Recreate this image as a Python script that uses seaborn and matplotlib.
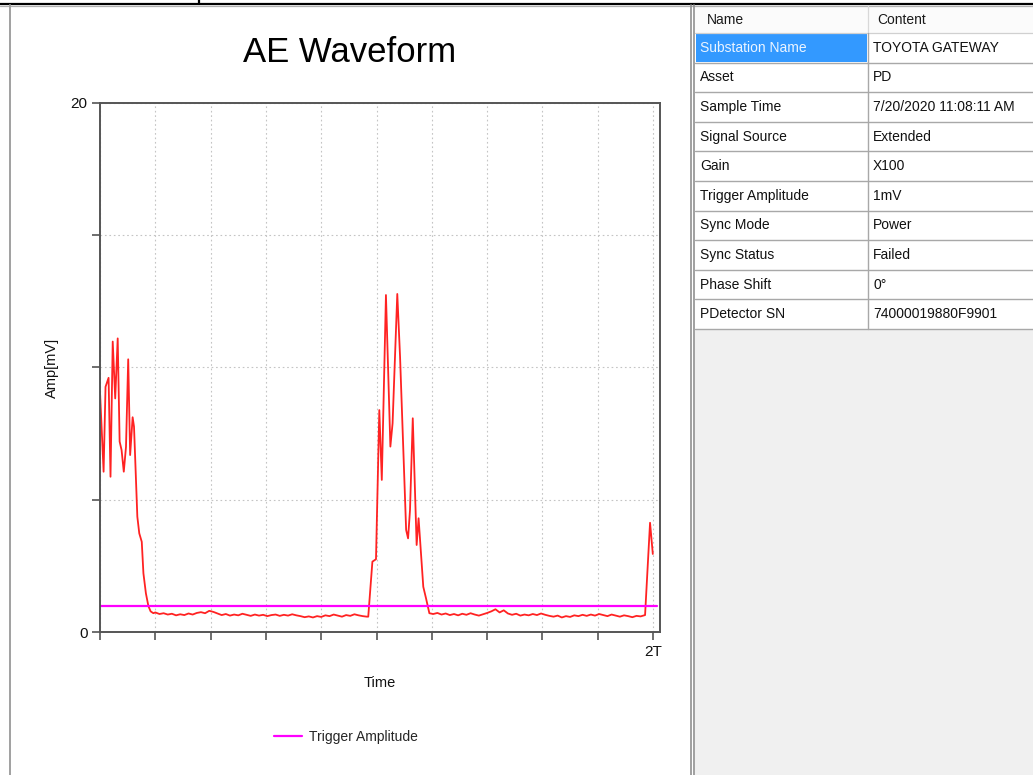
import numpy as np
import pandas as pd
import matplotlib
matplotlib.use("Agg")
import matplotlib.pyplot as plt
import seaborn as sns
from matplotlib.patches import Rectangle

# ---------------- data ----------------
burst1_t = [0.000, 0.013, 0.020, 0.031, 0.038, 0.046, 0.055, 0.064, 0.071, 0.078,
            0.086, 0.094, 0.102, 0.109, 0.118, 0.123, 0.135, 0.142, 0.151, 0.157,
            0.166, 0.175, 0.183, 0.193]
burst1_a = [9.08, 6.06, 9.27, 9.61, 5.87, 10.98, 8.83, 11.10, 7.20, 6.88,
            6.06, 7.00, 10.31, 6.69, 8.12, 7.76, 4.36, 3.73, 3.41, 2.22,
            1.46, 0.98, 0.78, 0.71]

noise1_t = [0.200, 0.215, 0.230, 0.245, 0.260, 0.275, 0.290, 0.305, 0.320, 0.335,
            0.350, 0.365, 0.380, 0.395, 0.410, 0.425, 0.440, 0.455, 0.470, 0.485,
            0.500, 0.515, 0.530, 0.545, 0.560, 0.575, 0.590, 0.605, 0.620, 0.635,
            0.650, 0.665, 0.680, 0.695, 0.710, 0.725, 0.740, 0.755, 0.770, 0.785,
            0.800, 0.815, 0.830, 0.845, 0.860, 0.875, 0.890, 0.905, 0.920, 0.935,
            0.950, 0.965]
noise1_a = [0.74, 0.68, 0.71, 0.66, 0.69, 0.63, 0.67, 0.64, 0.70, 0.66,
            0.72, 0.75, 0.71, 0.80, 0.76, 0.70, 0.64, 0.68, 0.62, 0.66,
            0.63, 0.69, 0.65, 0.61, 0.66, 0.62, 0.65, 0.60, 0.64, 0.66,
            0.61, 0.65, 0.62, 0.67, 0.63, 0.60, 0.56, 0.59, 0.55, 0.60,
            0.57, 0.63, 0.60, 0.66, 0.62, 0.58, 0.64, 0.61, 0.67, 0.63,
            0.60, 0.58]

burst2_t = [0.970, 0.985, 0.998, 1.010, 1.019, 1.034, 1.050, 1.058, 1.075, 1.085,
            1.107, 1.114, 1.121, 1.131, 1.145, 1.152, 1.169, 1.179, 1.191]
burst2_a = [0.58, 2.66, 2.75, 8.39, 5.75, 12.74, 7.01, 7.89, 12.78, 10.41,
            3.86, 3.54, 4.61, 8.08, 3.29, 4.30, 1.71, 1.27, 0.71]

noise2_t = [1.205, 1.220, 1.235, 1.250, 1.265, 1.280, 1.295, 1.310, 1.325, 1.340,
            1.355, 1.370, 1.385, 1.400, 1.415, 1.430, 1.445, 1.460, 1.475, 1.490,
            1.505, 1.520, 1.535, 1.550, 1.565, 1.580, 1.595, 1.610, 1.625, 1.640,
            1.655, 1.670, 1.685, 1.700, 1.715, 1.730, 1.745, 1.760, 1.775, 1.790,
            1.805, 1.820, 1.835, 1.850, 1.865, 1.880, 1.895, 1.910, 1.925, 1.940,
            1.955]
noise2_a = [0.68, 0.72, 0.66, 0.70, 0.64, 0.68, 0.63, 0.69, 0.65, 0.71,
            0.66, 0.62, 0.67, 0.72, 0.78, 0.86, 0.74, 0.82, 0.70, 0.65,
            0.69, 0.62, 0.66, 0.63, 0.68, 0.64, 0.70, 0.65, 0.61, 0.58,
            0.62, 0.55, 0.60, 0.57, 0.63, 0.60, 0.65, 0.61, 0.66, 0.62,
            0.68, 0.64, 0.60, 0.66, 0.62, 0.58, 0.63, 0.60, 0.56, 0.61,
            0.59]

burst3_t = [1.971, 1.989, 1.999]
burst3_a = [0.64, 4.13, 2.95]

trigger_t = [0.0, 2.013]
trigger_a = [1.0, 1.0]

x_ticks = [0.0, 0.2, 0.4, 0.6, 0.8, 1.0, 1.2, 1.4, 1.6, 1.8, 2.0]
x_tick_labels = ["", "", "", "", "", "", "", "", "", "", "2T"]
y_ticks = [0, 5, 10, 15, 20]
y_tick_labels = ["0", "", "", "", "20"]

table_header = ["Name", "Content"]
table_names = ["Substation Name", "Asset", "Sample Time", "Signal Source", "Gain",
               "Trigger Amplitude", "Sync Mode", "Sync Status", "Phase Shift",
               "PDetector SN"]
table_values = ["TOYOTA GATEWAY", "PD", "7/20/2020 11:08:11 AM", "Extended", "X100",
                "1mV", "Power", "Failed", "0°", "74000019880F9901"]

wave_df = pd.DataFrame({
    "time": burst1_t + noise1_t + burst2_t + noise2_t + burst3_t,
    "amp": burst1_a + noise1_a + burst2_a + noise2_a + burst3_a,
})
trig_df = pd.DataFrame({"time": trigger_t, "amp": trigger_a})

# ---------------- style ----------------
sns.set_theme(style="white")
plt.rcParams["font.family"] = ["Liberation Sans", "DejaVu Sans"]

W, H = 1033, 775
fig = plt.figure(figsize=(W / 100, H / 100), dpi=100)
fig.patch.set_facecolor("white")

# background / decoration layer in pixel coordinates
bg = fig.add_axes([0, 0, 1, 1], zorder=0)
bg.set_xlim(0, W)
bg.set_ylim(H, 0)
bg.axis("off")

# window frame lines
bg.plot([0, W], [3.5, 3.5], color="black", lw=1.6, solid_capstyle="butt")
bg.plot([0, W], [5.6, 5.6], color="#b0b0b0", lw=0.9)
bg.plot([199, 199], [0, 3.5], color="black", lw=1.6)
bg.plot([9.5, 9.5], [5, H], color="#a0a0a0", lw=1.4)
bg.plot([690.5, 690.5], [5, H], color="#909090", lw=1.2)
bg.plot([693.8, 693.8], [5, H], color="#909090", lw=1.2)

# right panel
bg.add_patch(Rectangle((695, 6), W - 695, H - 6, facecolor="#f0f0f0", edgecolor="none"))
col_x = [695, 868, W]
header_top, header_bot = 6, 33
row_h = 29.6
bg.add_patch(Rectangle((695, header_top), W - 695, header_bot - header_top,
                       facecolor="#fbfbfb", edgecolor="none"))
bg.plot([695, W], [header_bot, header_bot], color="#d0d0d0", lw=0.9)
bg.plot([868, 868], [header_top, header_bot], color="#d8d8d8", lw=0.9)
bg.text(707, 19.5, table_header[0], fontsize=10, ha="left", va="center", color="#1a1a1a")
bg.text(877, 19.5, table_header[1], fontsize=10, ha="left", va="center", color="#1a1a1a")

for i, (nm, val) in enumerate(zip(table_names, table_values)):
    y0 = header_bot + i * row_h
    bg.add_patch(Rectangle((695, y0), W - 695, row_h, facecolor="white", edgecolor="none"))
    if i == 0:
        bg.add_patch(Rectangle((696, y0 + 1), 868 - 697, row_h - 1.5,
                               facecolor="#3399ff", edgecolor="none"))
        ncol = "#eaf4ff"
    else:
        ncol = "#111111"
    bg.text(700, y0 + row_h / 2, nm, fontsize=10, ha="left", va="center", color=ncol)
    bg.text(873, y0 + row_h / 2, val, fontsize=10, ha="left", va="center", color="#111111")
    bg.plot([695, W], [y0 + row_h, y0 + row_h], color="#a8a8a8", lw=1.0)
table_bottom = header_bot + len(table_names) * row_h
bg.plot([868, 868], [header_bot, table_bottom], color="#a8a8a8", lw=1.0)

# title
bg.text(350, 52, "AE Waveform", fontsize=25, ha="center", va="center", color="black")

# ---------------- chart ----------------
ax = fig.add_axes([100 / W, 1 - 632 / H, 560 / W, 529 / H], zorder=2)
ax.set_facecolor("white")

sns.lineplot(data=wave_df, x="time", y="amp", ax=ax, sort=False, estimator=None,
             color="#ff2222", lw=1.3, legend=False)
sns.lineplot(data=trig_df, x="time", y="amp", ax=ax, sort=False, estimator=None,
             color="#ff00ff", lw=1.6, label="Trigger Amplitude")

ax.set_xlim(0, 2.025)
ax.set_ylim(0, 20)
ax.set_xticks(x_ticks)
ax.set_xticklabels(x_tick_labels)
ax.set_yticks(y_ticks)
ax.set_yticklabels(y_tick_labels)
ax.grid(True, linestyle=(0, (1.5, 2.5)), color="#c4c4c4", lw=0.8)
ax.set_axisbelow(True)

for s in ax.spines.values():
    s.set_color("#555555")
    s.set_linewidth(1.4)
ax.tick_params(axis="both", which="major", bottom=True, left=True, direction="out",
               length=6, width=1.2, color="#555555", labelsize=11, pad=3,
               labelcolor="#111111")

ax.set_xlabel("Time", fontsize=10.5, color="#111111")
ax.set_ylabel("Amp[mV]", fontsize=10.5, color="#111111")
ax.xaxis.set_label_coords(0.5, -(676 - 632) / 529)
ax.yaxis.set_label_coords(-(100 - 59) / 560, 0.5)

ax.legend(loc="center", bbox_to_anchor=(346 / W, 1 - 737 / H),
          bbox_transform=fig.transFigure, frameon=False, fontsize=10,
          handlelength=2.0, handletextpad=0.5)

fig.savefig("out.png", dpi=100)
